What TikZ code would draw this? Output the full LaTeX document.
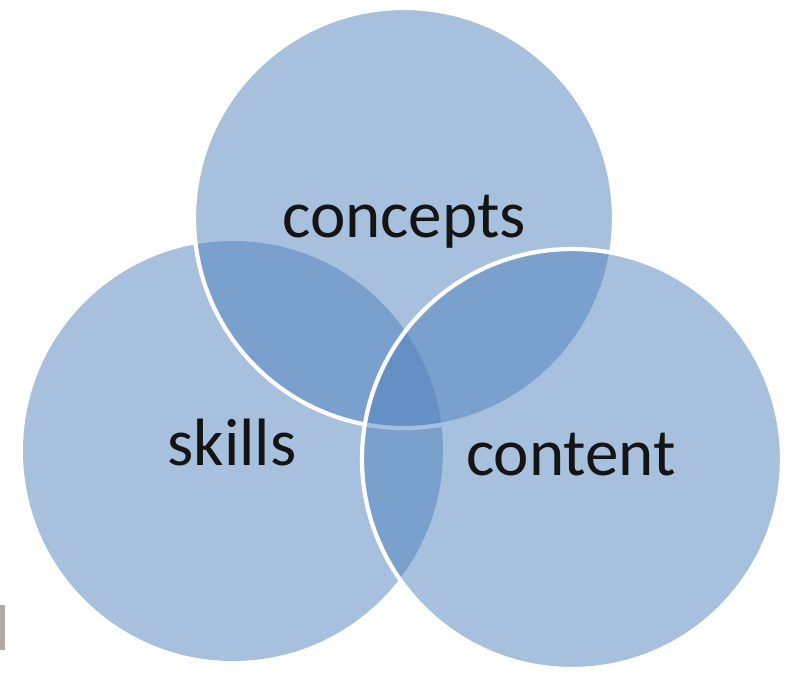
\documentclass[tikz,border=0pt]{standalone}
\usepackage{fontspec}
\setmainfont{Carlito}
\definecolor{vblue}{RGB}{79,129,189}
\definecolor{tabgray}{RGB}{178,170,164}
\definecolor{txt}{RGB}{20,20,20}
\begin{document}
\begin{tikzpicture}[x=1pt,y=-1pt,
  venn/.style={circle, minimum size=420pt, inner sep=0pt, outer sep=0pt,
     fill=vblue, fill opacity=0.5, draw=white, draw opacity=1, line width=4.2pt},
  vennplain/.style={venn, draw=none},
  lbl/.style={anchor=base, inner sep=0pt, text=txt, font=\fontsize{67}{80}\selectfont}]
\useasboundingbox (0,0) rectangle (791,672);
\fill[tabgray] (0,605) rectangle (5,650);
\node[vennplain] (skills) at (233,451) {};
\node[venn] (concepts) at (404,218) {};
\node[venn] (content) at (572,459) {};
\node[lbl] (tconcepts) at (404,237) {concepts};
\node[lbl] (tskills) at (232,465) {skills};
\node[lbl] (tcontent) at (571,475) {content};
\end{tikzpicture}
\end{document}
